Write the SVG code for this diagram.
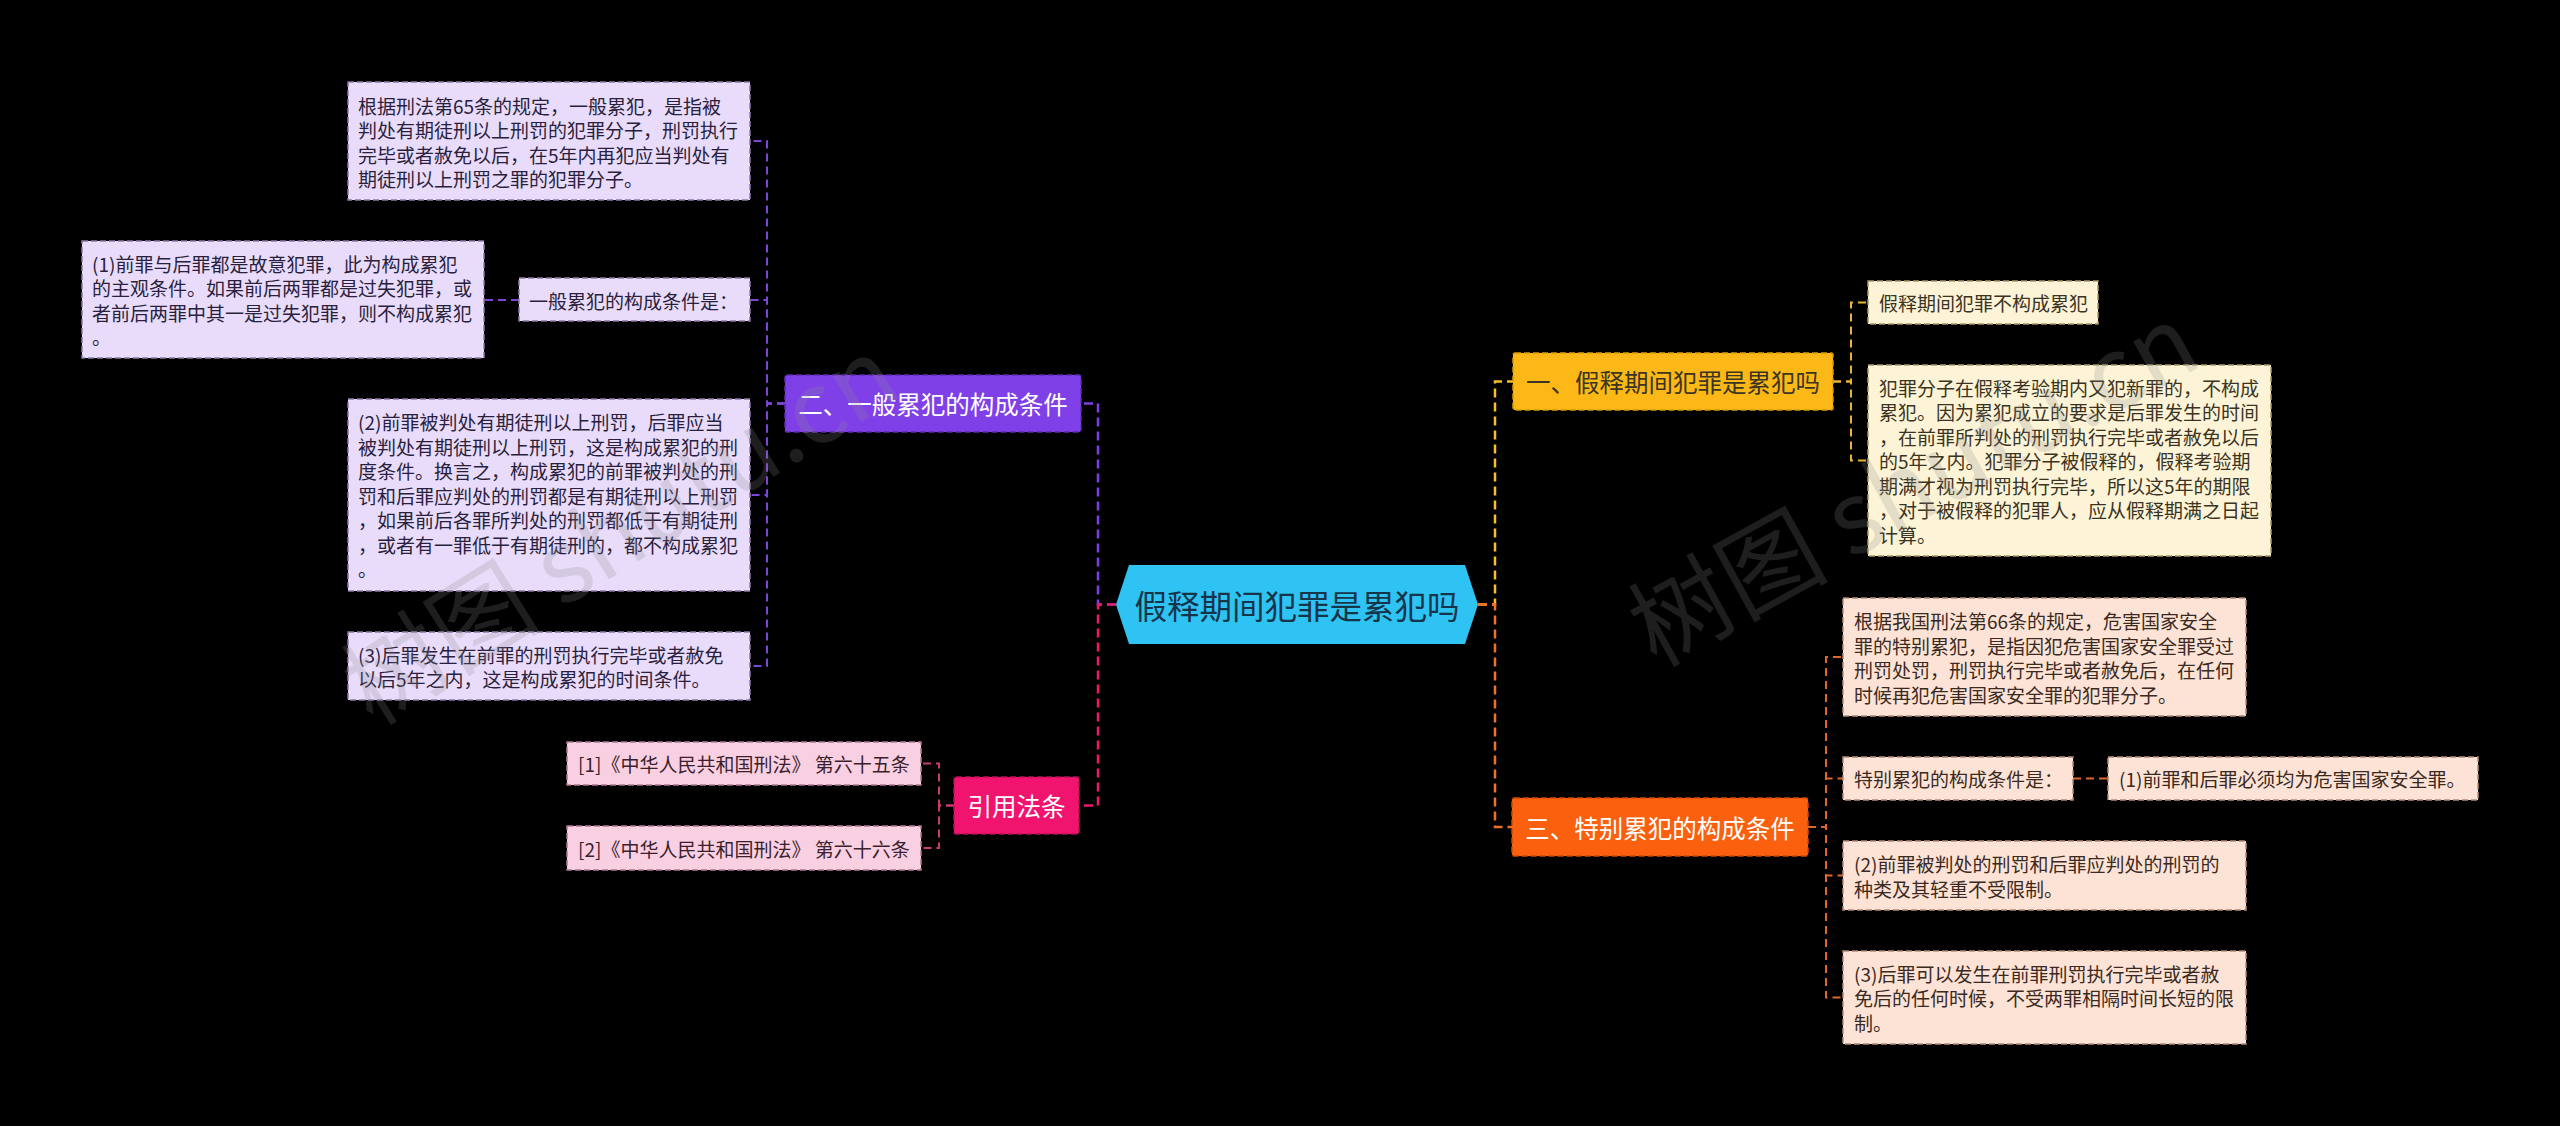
<svg xmlns="http://www.w3.org/2000/svg" width="2560" height="1126" viewBox="0 0 2560 1126">
<style>
text{font-family:"Noto Sans CJK SC","Noto Sans",sans-serif;dominant-baseline:central}
.lf{font-size:19px}
.mb{font-size:24.5px;text-anchor:middle}
.c{fill:none;stroke-width:2.5;stroke-dasharray:9 5}
.cs{fill:none;stroke-width:2;stroke-dasharray:8 5}
.lv rect{fill:#E8DCFA;stroke:#8c7aa8;stroke-width:1.5;stroke-dasharray:6 3}
.lv text{fill:#2a1f3d}
.pk rect{fill:#F9CFE2;stroke:#b07a92;stroke-width:1.5;stroke-dasharray:6 3}
.pk text{fill:#3a1f2c}
.yl rect{fill:#FDF4D8;stroke:#a89868;stroke-width:1.5;stroke-dasharray:6 3}
.yl text{fill:#3a3322}
.or rect{fill:#FDE3D5;stroke:#b08a78;stroke-width:1.5;stroke-dasharray:6 3}
.or text{fill:#3a2a22}
.wm{font-size:100px;fill:#8a8a8a;opacity:0.22}
</style>
<rect x="0" y="0" width="2560" height="1126" fill="#000"/>

<g id="connectors">
  <path class="c" stroke="#7E3EE6" d="M1116,604.5 H1098 V403.5 H1081"/>
  <path class="c" stroke="#E9196D" d="M1116,604.5 H1098 V805.5 H1079"/>
  <path class="c" stroke="#F7BD2A" d="M1478,604.5 H1495 V381.5 H1513"/>
  <path class="c" stroke="#F0702A" d="M1478,604.5 H1495 V827 H1512"/>
  <g stroke="#7B45D8">
    <path class="cs" d="M785,403.5 H767 V141 H750"/>
    <path class="cs" d="M785,403.5 H767 V300 H750"/>
    <path class="cs" d="M785,403.5 H767 V495 H750"/>
    <path class="cs" d="M785,403.5 H767 V666 H750"/>
    <path class="cs" d="M519,300 H484"/>
  </g>
  <g stroke="#C83C74">
    <path class="cs" d="M954,805.5 H939 V763.5 H921"/>
    <path class="cs" d="M954,805.5 H939 V848 H921"/>
  </g>
  <g stroke="#E8B530">
    <path class="cs" d="M1833,381.5 H1851 V302.5 H1868"/>
    <path class="cs" d="M1833,381.5 H1851 V460.5 H1868"/>
  </g>
  <g stroke="#E0662A">
    <path class="cs" d="M1808,827 H1826 V657 H1843"/>
    <path class="cs" d="M1808,827 H1826 V778.5 H1843"/>
    <path class="cs" d="M1808,827 H1826 V875.5 H1843"/>
    <path class="cs" d="M1808,827 H1826 V997.5 H1843"/>
    <path class="cs" d="M2073,778.5 H2108"/>
  </g>
</g>

<g id="root">
  <polygon points="1116,604.5 1129,565 1465,565 1478,604.5 1465,644 1129,644" fill="#2EC3F2"/>
  <text x="1297" y="604.5" font-size="32.5" text-anchor="middle" fill="#17354a">假释期间犯罪是累犯吗</text>
</g>

<g id="b2">
  <rect x="785" y="375" width="296" height="57" rx="2" fill="#8040E8" stroke="#5e2bb0" stroke-width="1.5" stroke-dasharray="6 3"/>
  <text class="mb" x="933" y="403.5" fill="#fff">二、一般累犯的构成条件</text>
</g>
<g id="bk">
  <rect x="954" y="777" width="125" height="57" rx="2" fill="#F0146E" stroke="#b80f55" stroke-width="1.5" stroke-dasharray="6 3"/>
  <text class="mb" x="1016.5" y="805.5" fill="#fff">引用法条</text>
</g>
<g id="b1">
  <rect x="1513" y="353" width="320" height="57" rx="2" fill="#FBB817" stroke="#d89a00" stroke-width="1.5" stroke-dasharray="6 3"/>
  <text class="mb" x="1673" y="381.5" fill="#3b3524">一、假释期间犯罪是累犯吗</text>
</g>
<g id="b3">
  <rect x="1512" y="798" width="296" height="58" rx="2" fill="#FA600E" stroke="#d04a00" stroke-width="1.5" stroke-dasharray="6 3"/>
  <text class="mb" x="1660" y="827" fill="#fff">三、特别累犯的构成条件</text>
</g>

<g id="l1" class="lv">
  <rect x="348" y="82" width="402" height="118"/>
  <text class="lf" x="358" y="105">根据刑法第65条的规定，一般累犯，是指被</text>
  <text class="lf" x="358" y="129.5">判处有期徒刑以上刑罚的犯罪分子，刑罚执行</text>
  <text class="lf" x="358" y="154">完毕或者赦免以后，在5年内再犯应当判处有</text>
  <text class="lf" x="358" y="178.5">期徒刑以上刑罚之罪的犯罪分子。</text>
</g>
<g id="l2" class="lv">
  <rect x="519" y="278" width="231" height="43"/>
  <text class="lf" x="529" y="300">一般累犯的构成条件是：</text>
</g>
<g id="l3" class="lv">
  <rect x="82" y="241" width="402" height="117"/>
  <text class="lf" x="92" y="263">(1)前罪与后罪都是故意犯罪，此为构成累犯</text>
  <text class="lf" x="92" y="287.5">的主观条件。如果前后两罪都是过失犯罪，或</text>
  <text class="lf" x="92" y="312">者前后两罪中其一是过失犯罪，则不构成累犯</text>
  <text class="lf" x="92" y="336.5">。</text>
</g>
<g id="l4" class="lv">
  <rect x="348" y="399" width="402" height="192"/>
  <text class="lf" x="358" y="421.5">(2)前罪被判处有期徒刑以上刑罚，后罪应当</text>
  <text class="lf" x="358" y="446">被判处有期徒刑以上刑罚，这是构成累犯的刑</text>
  <text class="lf" x="358" y="470.5">度条件。换言之，构成累犯的前罪被判处的刑</text>
  <text class="lf" x="358" y="495">罚和后罪应判处的刑罚都是有期徒刑以上刑罚</text>
  <text class="lf" x="358" y="519.5">，如果前后各罪所判处的刑罚都低于有期徒刑</text>
  <text class="lf" x="358" y="544">，或者有一罪低于有期徒刑的，都不构成累犯</text>
  <text class="lf" x="358" y="568.5">。</text>
</g>
<g id="l5" class="lv">
  <rect x="348" y="632" width="402" height="68"/>
  <text class="lf" x="358" y="654">(3)后罪发生在前罪的刑罚执行完毕或者赦免</text>
  <text class="lf" x="358" y="678.5">以后5年之内，这是构成累犯的时间条件。</text>
</g>

<g id="r1" class="pk">
  <rect x="567" y="742" width="354" height="43"/>
  <text class="lf" x="578" y="763.5">[1]《中华人民共和国刑法》 第六十五条</text>
</g>
<g id="r2" class="pk">
  <rect x="567" y="826" width="354" height="44"/>
  <text class="lf" x="578" y="848">[2]《中华人民共和国刑法》 第六十六条</text>
</g>

<g id="y1" class="yl">
  <rect x="1868" y="281" width="230" height="43"/>
  <text class="lf" x="1879" y="302.5">假释期间犯罪不构成累犯</text>
</g>
<g id="y2" class="yl">
  <rect x="1868" y="365" width="403" height="191"/>
  <text class="lf" x="1879" y="387">犯罪分子在假释考验期内又犯新罪的，不构成</text>
  <text class="lf" x="1879" y="411.5">累犯。因为累犯成立的要求是后罪发生的时间</text>
  <text class="lf" x="1879" y="436">，在前罪所判处的刑罚执行完毕或者赦免以后</text>
  <text class="lf" x="1879" y="460.5">的5年之内。犯罪分子被假释的，假释考验期</text>
  <text class="lf" x="1879" y="485">期满才视为刑罚执行完毕，所以这5年的期限</text>
  <text class="lf" x="1879" y="509.5">，对于被假释的犯罪人，应从假释期满之日起</text>
  <text class="lf" x="1879" y="534">计算。</text>
</g>

<g id="o1" class="or">
  <rect x="1843" y="598" width="403" height="118"/>
  <text class="lf" x="1854" y="620.5">根据我国刑法第66条的规定，危害国家安全</text>
  <text class="lf" x="1854" y="645">罪的特别累犯，是指因犯危害国家安全罪受过</text>
  <text class="lf" x="1854" y="669.5">刑罚处罚，刑罚执行完毕或者赦免后，在任何</text>
  <text class="lf" x="1854" y="694">时候再犯危害国家安全罪的犯罪分子。</text>
</g>
<g id="o2" class="or">
  <rect x="1843" y="757" width="230" height="43"/>
  <text class="lf" x="1854" y="778.5">特别累犯的构成条件是：</text>
</g>
<g id="o3" class="or">
  <rect x="2108" y="757" width="370" height="43"/>
  <text class="lf" x="2119" y="778.5">(1)前罪和后罪必须均为危害国家安全罪。</text>
</g>
<g id="o4" class="or">
  <rect x="1843" y="841" width="403" height="69"/>
  <text class="lf" x="1854" y="863.5">(2)前罪被判处的刑罚和后罪应判处的刑罚的</text>
  <text class="lf" x="1854" y="888">种类及其轻重不受限制。</text>
</g>
<g id="o5" class="or">
  <rect x="1843" y="951" width="403" height="93"/>
  <text class="lf" x="1854" y="973">(3)后罪可以发生在前罪刑罚执行完毕或者赦</text>
  <text class="lf" x="1854" y="997.5">免后的任何时候，不受两罪相隔时间长短的限</text>
  <text class="lf" x="1854" y="1022">制。</text>
</g>

<g id="watermarks">
  <text class="wm" x="350" y="690" transform="rotate(-32 350 690)">树图 shutu.cn</text>
  <text class="wm" x="1635" y="630" transform="rotate(-29 1635 630)">树图 shutu.cn</text>
</g>
</svg>
